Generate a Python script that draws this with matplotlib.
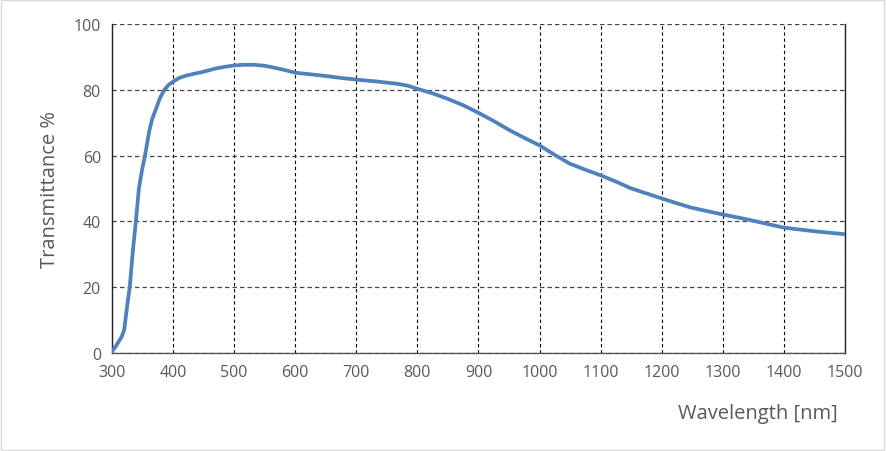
import matplotlib; matplotlib.use("Agg")
import matplotlib.pyplot as plt
from matplotlib.patches import Rectangle

# values
wavelength = [300, 306, 311, 316, 320, 325, 329, 334, 339, 344, 349, 354, 358, 361,
              366, 372, 378, 385, 392, 400, 410, 421, 435, 448, 460, 470, 485, 500,
              515, 533, 550, 566, 583, 600, 625, 650, 675, 700, 735, 768, 785, 800,
              825, 849, 875, 900, 925, 951, 975, 1000, 1025, 1049, 1075, 1100, 1125,
              1149, 1175, 1200, 1225, 1248, 1275, 1300, 1335, 1369, 1400, 1450, 1500]
transmittance = [0.5, 2.0, 3.5, 5.0, 7.1, 14.6, 20.0, 30.8, 40.0, 50.0, 55.5, 60.0,
                 64.3, 67.5, 71.3, 74.2, 77.3, 79.8, 81.4, 82.5, 83.6, 84.3, 84.9,
                 85.4, 86.0, 86.5, 87.0, 87.4, 87.6, 87.6, 87.3, 86.7, 86.0, 85.2,
                 84.7, 84.2, 83.6, 83.1, 82.5, 81.8, 81.2, 80.3, 78.9, 77.3, 75.3,
                 73.0, 70.5, 67.7, 65.4, 63.1, 60.2, 57.6, 55.7, 54.0, 52.1, 50.1,
                 48.5, 47.0, 45.5, 44.2, 43.1, 42.1, 40.8, 39.4, 38.1, 37.0, 36.1]
xticks = list(range(300, 1501, 100))
yticks = [0, 20, 40, 60, 80, 100]

grey = "#595959"
plt.rcParams["font.family"] = ["Open Sans", "DejaVu Sans"]

fig = plt.figure(figsize=(8.87, 4.52), dpi=100)
ax = fig.add_axes([0.1263, 0.2168, 0.8263, 0.7279])
ax.plot(wavelength, transmittance, color="#4F81BD", lw=2.7,
        solid_capstyle="round", solid_joinstyle="round", zorder=3)

ax.set_xlim(300, 1500); ax.set_ylim(0, 100)
ax.set_xticks(xticks); ax.set_yticks(yticks)
ax.tick_params(length=0, labelsize=11.5, labelcolor=grey, pad=8)
ax.grid(axis="x", color="black", ls=(0, (3, 2.5)), lw=0.8)
ax.grid(axis="y", color="#444444", ls=(0, (3.5, 2.5)), lw=0.9)
ax.spines["top"].set_visible(False)
for s in ("left", "bottom", "right"):
    ax.spines[s].set_color("#222222"); ax.spines[s].set_linewidth(1.0)
ax.spines["bottom"].set_color("#555555")

ax.set_ylabel("Transmittance %", fontsize=14.5, color=grey, labelpad=10)
fig.text(0.945, 0.085, "Wavelength [nm]", fontsize=14.5, color=grey, ha="right", va="center")

fig.patches.append(Rectangle((0.001, 0.003), 0.996, 0.994, transform=fig.transFigure,
                             fill=False, edgecolor="#D9D9D9", lw=1.0))
fig.savefig("out.png", dpi=100)
